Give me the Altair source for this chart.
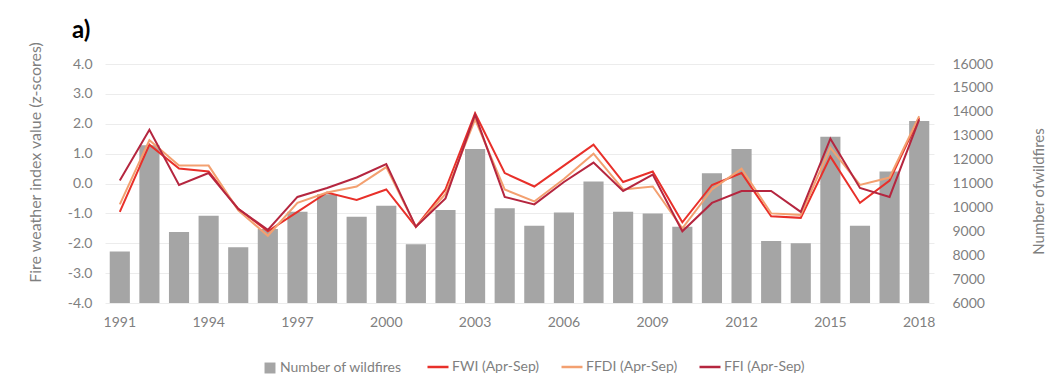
import altair as alt
import pandas as pd

# Fire seasons shown on the x axis
years = ["1991", "1992", "1993", "1994", "1995", "1996", "1997", "1998", "1999", "2000",
         "2001", "2002", "2003", "2004", "2005", "2006", "2007", "2008", "2009", "2010",
         "2011", "2012", "2013", "2014", "2015", "2016", "2017", "2018"]

# Number of wildfires per year (right axis)
wildfires = [8150, 12600, 8970, 9650, 8330, 9100, 9820, 10550, 9610, 10070,
             8460, 9890, 12440, 9960, 9230, 9790, 11080, 9820, 9750, 9190,
             11430, 12440, 8590, 8500, 12960, 9230, 11500, 13610]

# Fire weather indices, April-September means as z-scores (left axis)
fwi = [-0.95, 1.30, 0.50, 0.40, -0.85, -1.60, -0.95, -0.30, -0.55, -0.20,
       -1.45, -0.20, 2.35, 0.35, -0.10, 0.60, 1.30, 0.05, 0.40, -1.30,
       -0.05, 0.35, -1.10, -1.15, 0.90, -0.65, 0.10, 2.20]
ffdi = [-0.70, 1.45, 0.60, 0.60, -0.90, -1.75, -0.65, -0.30, -0.10, 0.55,
        -1.45, -0.35, 2.15, -0.20, -0.60, 0.15, 1.00, -0.20, -0.10, -1.50,
        -0.20, 0.50, -1.00, -1.05, 1.20, -0.05, 0.20, 2.25]
ffi = [0.10, 1.80, -0.05, 0.35, -0.85, -1.55, -0.45, -0.15, 0.20, 0.65,
       -1.45, -0.50, 2.30, -0.45, -0.70, 0.05, 0.70, -0.25, 0.30, -1.60,
       -0.65, -0.25, -0.25, -0.95, 1.50, -0.15, -0.45, 2.15]

index_names = ["FWI (Apr-Sep)", "FFDI (Apr-Sep)", "FFI (Apr-Sep)"]
index_colors = ["#e8302a", "#f3a070", "#b5263f"]
bar_label = "Number of wildfires"
bar_color = "#a5a5a5"

x_tick_labels = ["1991", "1994", "1997", "2000", "2003", "2006", "2009", "2012", "2015", "2018"]
left_ticks = [-4, -3, -2, -1, 0, 1, 2, 3, 4]
right_ticks = [6000, 7000, 8000, 9000, 10000, 11000, 12000, 13000, 14000, 15000, 16000]

FONT = "Lato"
TEXT_GREY = "#7f7f7f"
TICK_SIZE = 14
LEGEND_SIZE = 14
TITLE_SIZE = 16

bars_df = pd.DataFrame({"Year": years, "Fires": wildfires, "Series": bar_label})
lines_df = pd.concat(
    [pd.DataFrame({"Year": years, "Value": vals, "Index": name})
     for name, vals in zip(index_names, [fwi, ffdi, ffi])],
    ignore_index=True,
)

x_enc = alt.X(
    "Year:O",
    scale=alt.Scale(paddingInner=0.32, paddingOuter=0.16),
    axis=alt.Axis(values=x_tick_labels, title=None, labelAngle=0, ticks=False,
                  domain=False, labelPadding=12, labelFontSize=TICK_SIZE,
                  labelColor=TEXT_GREY, labelFont=FONT),
)

bars = alt.Chart(bars_df).mark_bar().encode(
    x=x_enc,
    y=alt.Y(
        "Fires:Q",
        scale=alt.Scale(domain=[6000, 16000], nice=False, zero=False),
        axis=alt.Axis(orient="right", values=right_ticks, format="d", grid=False,
                      ticks=False, domain=False, labelPadding=18, labelFontSize=TICK_SIZE,
                      labelColor=TEXT_GREY, labelFont=FONT,
                      title="Number ofwildfires", titleAngle=270, titleX=104, titleY=127,
                      titleAlign="center", titleBaseline="middle", titleFontSize=15,
                      titleFontWeight="normal", titleColor=TEXT_GREY, titleFont=FONT),
    ),
    y2=alt.datum(6000),
    fill=alt.Fill(
        "Series:N",
        scale=alt.Scale(domain=[bar_label], range=[bar_color]),
        legend=alt.Legend(title=None, orient="none", legendX=158, legendY=297,
                          symbolType="square", symbolSize=120, symbolStrokeWidth=0,
                          labelFontSize=LEGEND_SIZE, labelColor=TEXT_GREY, labelFont=FONT,
                          labelOffset=3),
    ),
)

lines = alt.Chart(lines_df).mark_line(strokeWidth=2).encode(
    x=x_enc,
    y=alt.Y(
        "Value:Q",
        scale=alt.Scale(domain=[-4, 4], nice=False, zero=False),
        axis=alt.Axis(orient="left", values=left_ticks,
                      labelExpr="replace(format(datum.value, '.1f'), '\u2212', '-')",
                      grid=True, gridColor="#ececec", ticks=False, domain=False,
                      labelPadding=13, labelFontSize=TICK_SIZE, labelColor=TEXT_GREY,
                      labelFont=FONT,
                      title="Fire weather index value (z-scores)", titleAngle=270,
                      titleX=-70, titleY=98, titleAlign="center", titleBaseline="middle",
                      titleFontSize=TITLE_SIZE, titleFontWeight="normal", titleColor=TEXT_GREY,
                      titleFont=FONT),
    ),
    stroke=alt.Stroke(
        "Index:N",
        scale=alt.Scale(domain=index_names, range=index_colors),
        legend=alt.Legend(title=None, orient="none", direction="horizontal",
                          legendX=321, legendY=291, symbolType="stroke",
                          symbolSize=441, symbolStrokeWidth=2.5, columnPadding=16,
                          labelFontSize=LEGEND_SIZE, labelColor=TEXT_GREY, labelFont=FONT,
                          labelOffset=2),
    ),
    order=alt.Order("Year:O"),
)

chart = (
    alt.layer(bars, lines)
    .resolve_scale(y="independent")
    .properties(
        width=829,
        height=239,
        padding={"left": 105, "top": 64, "right": 122, "bottom": 82},
        autosize=alt.AutoSizeParams(type="none"),
        title=alt.TitleParams("a)", anchor="start", frame="group", fontSize=24,
                              fontWeight="bold", font=FONT, color="#000000",
                              dx=-33, dy=2, offset=0),
    )
    .configure(font=FONT, background="white")
    .configure_view(stroke=None)
)

chart.save("out.html", embed_options={"renderer": "svg", "actions": False})
